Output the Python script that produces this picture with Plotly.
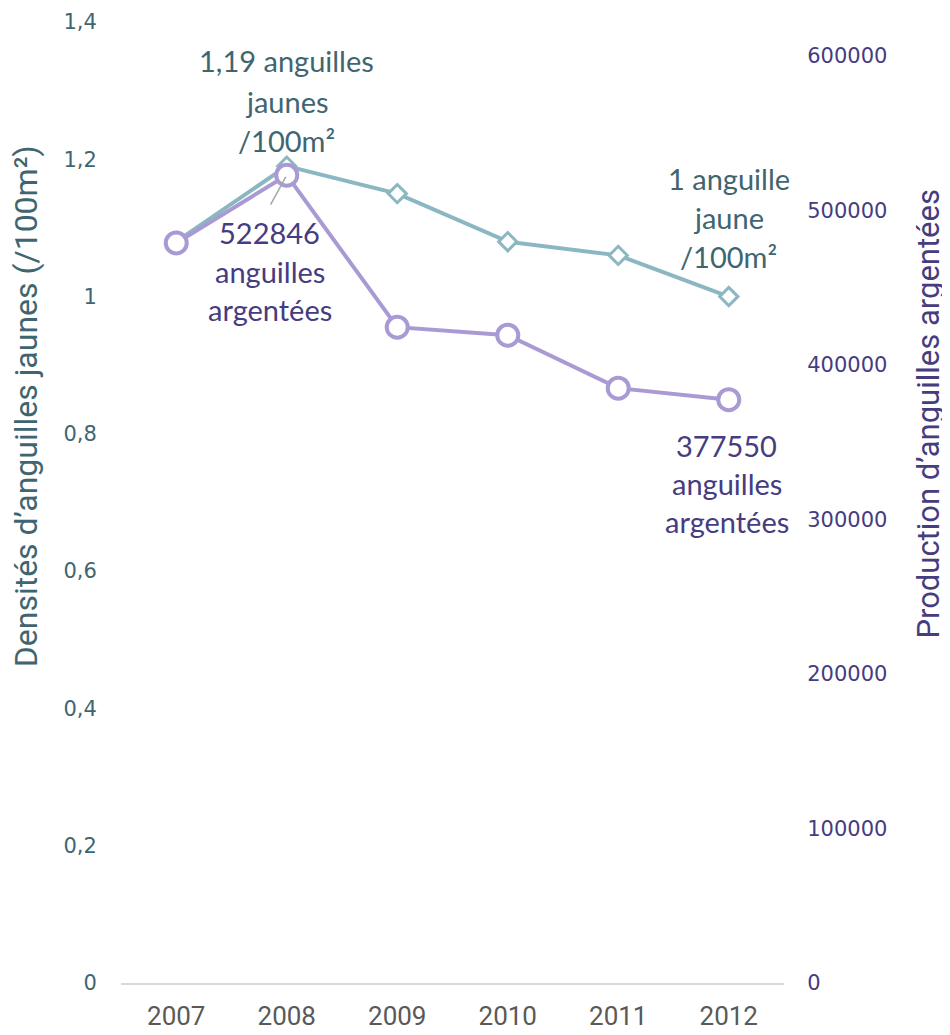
import plotly.graph_objects as go

years = ["2007", "2008", "2009", "2010", "2011", "2012"]
densite_jaunes = [1.08, 1.19, 1.15, 1.08, 1.06, 1.00]
production_argentees = [479000, 522846, 424500, 419300, 385000, 377550]

left_ticks = [0, 0.2, 0.4, 0.6, 0.8, 1.0, 1.2, 1.4]
left_ticktext = ["0", "0,2", "0,4", "0,6", "0,8", "1", "1,2", "1,4"]
right_ticks = [0, 100000, 200000, 300000, 400000, 500000, 600000]
right_ticktext = [str(v) for v in right_ticks]

TEAL = "#8BB7C2"
TEAL_TXT = "#3F6670"
PURPLE = "#A99AD4"
PURPLE_TXT = "#463C80"
ANN_FONT = "Lato, Open Sans, sans-serif"
NARROW = "Roboto, sans-serif"

fig = go.Figure()
fig.add_trace(go.Scatter(
    x=years, y=densite_jaunes, mode="lines+markers", yaxis="y",
    line=dict(color=TEAL, width=4),
    marker=dict(symbol="diamond", size=14, color="white", line=dict(color=TEAL, width=3)),
    showlegend=False, hoverinfo="skip"))
fig.add_trace(go.Scatter(
    x=years, y=production_argentees, mode="lines+markers", yaxis="y2",
    line=dict(color=PURPLE, width=4),
    marker=dict(symbol="circle", size=21, color="white", line=dict(color=PURPLE, width=4)),
    showlegend=False, hoverinfo="skip"))

ann = []
def add_lines(lines, idx, y, yref, shifts, color, xshift=0):
    for t, s in zip(lines, shifts):
        ann.append(dict(x=idx, y=y, xref="x", yref=yref, text=t, showarrow=False,
                        yanchor="middle", xanchor="center", yshift=s, xshift=xshift,
                        font=dict(family=ANN_FONT, size=29, color=color)))

add_lines(["1,19 anguilles", "jaunes", "/100m²"], 1, densite_jaunes[1], "y",
          [106, 65, 26], TEAL_TXT)
add_lines(["1 anguille", "jaune", "/100m²"], 5, densite_jaunes[5], "y",
          [118, 79, 40], TEAL_TXT)
add_lines(["522846", "anguilles", "argentées"], 1, production_argentees[1], "y2",
          [-57, -96, -134], PURPLE_TXT, xshift=-17)
add_lines(["377550", "anguilles", "argentées"], 5, production_argentees[5], "y2",
          [-46, -84, -122], PURPLE_TXT, xshift=-2)

ann.append(dict(x=1, y=production_argentees[1], xref="x", yref="y2", text="",
                showarrow=True, arrowhead=0, arrowwidth=1.5, arrowcolor="#A6A6A6",
                ax=-17, ay=31, standoff=2))

ann.append(dict(x=-0.142, y=0.600, xref="paper", yref="paper", text="Densités d’anguilles jaunes (/100m²)",
                showarrow=False, textangle=-90, xanchor="center", yanchor="middle",
                font=dict(family=NARROW, size=32, color=TEAL_TXT)))
ann.append(dict(x=1.218, y=0.592, xref="paper", yref="paper", text="Production d’anguilles argentées",
                showarrow=False, textangle=-90, xanchor="center", yanchor="middle",
                font=dict(family=NARROW, size=31, color=PURPLE_TXT)))

fig.update_layout(
    width=942, height=1027,
    margin=dict(l=113, r=166, t=14, b=52),
    paper_bgcolor="white", plot_bgcolor="white",
    annotations=ann,
    xaxis=dict(type="category", range=[-0.5, 5.5], showgrid=False, zeroline=False,
               showline=True, linecolor="#D9D9D9", linewidth=2, automargin=False,
               ticks="outside", ticklen=9, tickcolor="rgba(0,0,0,0)",
               tickfont=dict(family=NARROW, size=26, color="#595959")),
    yaxis=dict(range=[0, 1.4], tickvals=left_ticks, ticktext=left_ticktext,
               showgrid=False, zeroline=False, showline=False, automargin=False,
               ticks="outside", ticklen=19, tickcolor="rgba(0,0,0,0)",
               tickfont=dict(family="DejaVu Sans", size=21, color=TEAL_TXT)),
    yaxis2=dict(range=[0, 622000], tickvals=right_ticks, ticktext=right_ticktext,
                overlaying="y", side="right", automargin=False,
                showgrid=False, zeroline=False, showline=False,
                ticks="outside", ticklen=18, tickcolor="rgba(0,0,0,0)",
                tickfont=dict(family="DejaVu Sans", size=21, color=PURPLE_TXT)),
)

fig.write_html("out.html")
